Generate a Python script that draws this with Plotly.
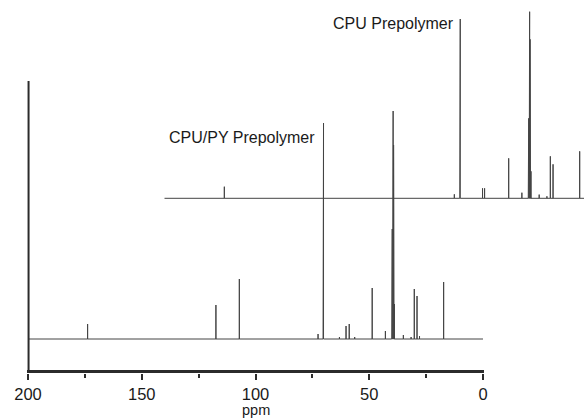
import plotly.graph_objects as go

# ---- data (ppm, peak height in arbitrary intensity units) ----
lower_name = "CPU/PY Prepolymer"
lower_ppm = [173.8, 117.4, 107.1, 72.5, 70.3, 70.1, 63.1, 60.2, 58.8, 56.4, 48.7, 42.9,
             40.1, 39.9, 39.7, 39.5, 39.3, 39.1, 38.9, 35.0, 31.6, 30.2, 29.0, 27.9, 17.3]
lower_height = [15, 34, 60, 5, 12, 216, 2, 13, 15, 2, 51, 8,
                35, 110, 194, 228, 194, 110, 35, 4, 2, 50, 43, 3, 57]

upper_name = "CPU Prepolymer"
upper_ppm = [173.7, 72.6, 70.2, 70.0, 60.2, 59.3, 48.7, 42.9,
             40.1, 39.9, 39.7, 39.5, 39.3, 39.1, 38.9, 35.3, 31.9, 30.4, 29.2, 17.5]
upper_height = [11.6, 4, 10, 179.3, 10, 10, 40, 5.6,
                27, 80, 159, 186.6, 159, 80, 27, 3.7, 2, 42, 34, 47]

tick_vals = [200, 150, 100, 50, 0]
tick_text = ["200", "150", "100", "50", "0"]
minor_vals = [175, 125, 75, 25]

# stacking offsets (layout of the stacked plot)
lower_base = 34.0
upper_base = 174.7
upper_shift = 60.0          # horizontal offset of the upper spectrum (ppm)
ppm_start, ppm_end = 200.0, 0.0
full_right = -44.4          # ppm value at the right edge of the figure
y_top = 373.0
x_domain_end = (ppm_start - ppm_end) / (ppm_start - full_right)


def stick_path(ppms, heights, base):
    pairs = sorted(zip(ppms, heights), key=lambda t: -t[0])
    xs = [ppm_start]
    ys = [base]
    for p, h in pairs:
        xs += [p, p, p]
        ys += [base, base + h, base]
    xs.append(ppm_end)
    ys.append(base)
    return xs, ys


lx, ly = stick_path(lower_ppm, lower_height, lower_base)
ux, uy = stick_path(upper_ppm, upper_height, upper_base)

fig = go.Figure()
fig.add_trace(go.Scatter(x=lx, y=ly, mode="lines", name=lower_name,
                         xaxis="x", yaxis="y",
                         line=dict(color="#444444", width=1), showlegend=False,
                         hoverinfo="skip"))
fig.add_trace(go.Scatter(x=ux, y=uy, mode="lines", name=upper_name,
                         xaxis="x2", yaxis="y",
                         line=dict(color="#444444", width=1), showlegend=False,
                         hoverinfo="skip"))

axis_col = "#2b2b2b"
fig.update_layout(
    width=584, height=418,
    margin=dict(l=28, r=0, t=0, b=45, autoexpand=False),
    paper_bgcolor="white", plot_bgcolor="rgba(0,0,0,0)",
    font=dict(family="Arial, Liberation Sans, sans-serif", color="#1a1a1a"),
    xaxis=dict(domain=[0, x_domain_end], range=[ppm_start, ppm_end], anchor="y",
               showgrid=False, zeroline=False, showline=False,
               tickmode="array", tickvals=tick_vals, ticktext=tick_text,
               ticks="outside", ticklen=6, tickwidth=1.5, tickcolor=axis_col,
               tickfont=dict(size=16.5, color="#1a1a1a"),
               minor=dict(tickmode="array", tickvals=minor_vals, ticks="outside",
                          ticklen=4, tickwidth=1.5, tickcolor=axis_col, showgrid=False)),
    xaxis2=dict(domain=[0, 1], range=[ppm_start + upper_shift, full_right + upper_shift],
                anchor="y", visible=False, showgrid=False, zeroline=False),
    yaxis=dict(range=[0, y_top], visible=False, anchor="x"),
    shapes=[
        dict(type="rect", xref="paper", yref="paper", x0=-0.0018, x1=x_domain_end + 0.0018,
             y0=0, y1=3.0 / y_top, layer="above",
             fillcolor=axis_col, line=dict(width=0)),
        dict(type="line", xref="paper", yref="paper", x0=0.001, x1=0.001, y0=0, y1=292 / y_top,
             line=dict(color=axis_col, width=2)),
    ],
    annotations=[
        dict(text=upper_name, x=66.7, y=349.5, xref="x", yref="y",
             xanchor="left", yanchor="middle", showarrow=False,
             font=dict(size=16, color="#1a1a1a")),
        dict(text=lower_name, x=138.9, y=236, xref="x", yref="y",
             xanchor="left", yanchor="middle", showarrow=False,
             font=dict(size=16, color="#1a1a1a")),
        dict(text="ppm", x=100, y=-36.5 / y_top, xref="x", yref="paper",
             xanchor="center", yanchor="middle", showarrow=False,
             font=dict(size=14.5, color="#1a1a1a")),
    ],
)

fig.write_html("out.html")
